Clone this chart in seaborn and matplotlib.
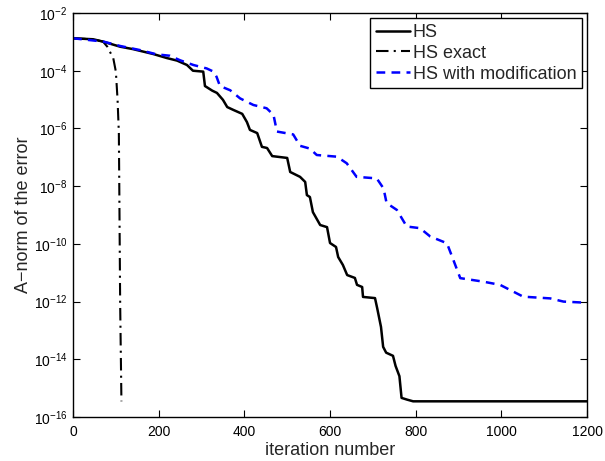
import matplotlib
matplotlib.use("Agg")
import matplotlib.pyplot as plt
import matplotlib.ticker as mticker
import pandas as pd
import seaborn as sns

# values
hs_iter = [0, 47, 70, 110, 140, 187, 219, 243, 266, 280, 304, 308, 325, 336, 350, 360,
           374, 395, 406, 413, 430, 441, 453, 465, 500, 507, 530, 542, 546, 553, 560,
           577, 593, 600, 614, 619, 630, 640, 658, 663, 675, 677, 705, 710, 719, 724,
           731, 747, 753, 762, 767, 780, 794, 1200]
hs_err = [1.33e-3, 1.23e-3, 1.02e-3, 6.8e-4, 5.6e-4, 3.8e-4, 2.75e-4, 2.24e-4, 1.58e-4,
          1.0e-4, 9.3e-5, 2.95e-5, 2.04e-5, 1.7e-5, 9.8e-6, 5.5e-6, 4.4e-6, 3.2e-6,
          1.66e-6, 8.9e-7, 6.9e-7, 2.3e-7, 2.1e-7, 1.1e-7, 9.5e-8, 3.1e-8, 2.1e-8,
          1.4e-8, 4.9e-9, 4.2e-9, 1.26e-9, 4.5e-10, 3.8e-10, 1.07e-10, 7.8e-11, 3.5e-11,
          1.86e-11, 8.3e-12, 6.6e-12, 3.8e-12, 3.2e-12, 1.45e-12, 1.32e-12, 6.0e-13,
          1.32e-13, 2.7e-14, 1.7e-14, 1.32e-14, 5.9e-15, 2.6e-15, 4.6e-16, 4.0e-16,
          3.5e-16, 3.5e-16]

exact_iter = [0, 47, 70, 80, 94, 100, 104, 107, 108, 110, 113]
exact_err = [1.33e-3, 1.23e-3, 1.02e-3, 6.8e-4, 2.7e-4, 9.3e-5, 9.8e-6, 6.9e-7, 1e-8,
             1e-12, 3.5e-16]

mod_iter = [0, 71, 110, 156, 195, 226, 250, 281, 312, 328, 335, 343, 367, 390, 421, 452,
            468, 476, 514, 530, 553, 569, 616, 639, 662, 709, 725, 732, 756, 779, 810,
            834, 873, 888, 904, 958, 997, 1051, 1114, 1145, 1200]
mod_err = [1.33e-3, 1.02e-3, 7.2e-4, 5.2e-4, 3.7e-4, 3.3e-4, 2.3e-4, 1.58e-4, 1.2e-4,
           9.3e-5, 6.2e-5, 2.95e-5, 2.1e-5, 1.1e-5, 6.5e-6, 5.0e-6, 2.95e-6, 7.8e-7,
           6.2e-7, 2.5e-7, 2.0e-7, 1.2e-7, 1.05e-7, 6.2e-8, 2.1e-8, 1.86e-8, 8.3e-9,
           2.6e-9, 1.5e-9, 4.0e-10, 3.5e-10, 1.8e-10, 1.05e-10, 2.75e-11, 6.5e-12,
           4.9e-12, 3.8e-12, 1.48e-12, 1.29e-12, 1.0e-12, 9.1e-13]

sns.set_style("ticks")
plt.rcParams['font.family'] = ['Liberation Sans', 'DejaVu Sans']
plt.rcParams['mathtext.default'] = 'regular'

fig = plt.figure(figsize=(6.05, 4.61), dpi=100)
ax = fig.add_axes([0.1207, 0.0954, 0.8496, 0.8764])

hs = pd.DataFrame({'iter': hs_iter, 'err': hs_err})
ex = pd.DataFrame({'iter': exact_iter, 'err': exact_err})
md = pd.DataFrame({'iter': mod_iter, 'err': mod_err})

sns.lineplot(data=hs, x='iter', y='err', ax=ax, color='black', lw=1.8, label='HS')
sns.lineplot(data=ex, x='iter', y='err', ax=ax, color='black', lw=1.5,
             linestyle=(0, (6, 2.5, 1, 2.5)), label='HS exact')
sns.lineplot(data=md, x='iter', y='err', ax=ax, color='#0000ff', lw=1.8,
             linestyle=(0, (3.5, 2.5)), label='HS with modification')

ax.set_yscale('log')
ax.set_xlim(0, 1200)
ax.set_ylim(1e-16, 1e-2)
ax.xaxis.set_major_locator(mticker.MultipleLocator(200))
ax.yaxis.set_major_locator(mticker.LogLocator(base=100.0))
ax.yaxis.set_minor_locator(mticker.NullLocator())
ax.tick_params(direction='in', length=5, width=0.8, top=True, right=True,
               labelsize=10, colors='black', pad=4)
ax.tick_params(axis='x', pad=6)
for s in ax.spines.values():
    s.set_visible(True)
    s.set_linewidth(1.0)
    s.set_color('black')

ax.set_xlabel('iteration number', fontsize=13, labelpad=2)
ax.set_ylabel('A\u2212norm of the error', fontsize=13, labelpad=1)

leg = ax.legend(loc='upper right', fontsize=13, frameon=True, fancybox=False,
                framealpha=1, edgecolor='black', handlelength=1.9, handletextpad=0.15,
                borderaxespad=0.3, borderpad=0.3, labelspacing=0.22)
leg.get_frame().set_linewidth(1.0)

fig.savefig('out.png', dpi=100)
